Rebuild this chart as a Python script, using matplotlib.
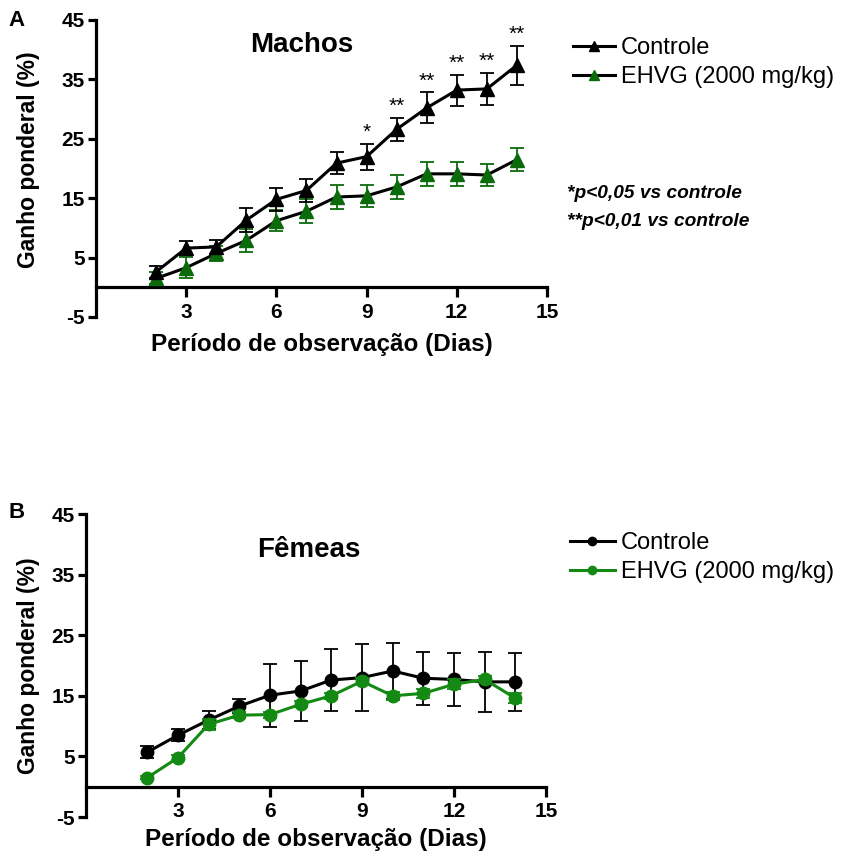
import numpy as np
import matplotlib.pyplot as plt
from matplotlib.lines import Line2D

plt.rcParams['font.family'] = ['Liberation Sans', 'DejaVu Sans']
plt.rcParams['axes.unicode_minus'] = False

# dados - painel A (machos)
dias = [2, 3, 4, 5, 6, 7, 8, 9, 10, 11, 12, 13, 14]
machos_ctrl = [2.6, 6.6, 6.8, 11.3, 14.8, 16.3, 20.9, 22.0, 26.6, 30.2, 33.2, 33.4, 37.4]
machos_ctrl_ep = [1.0, 1.2, 1.2, 2.0, 1.9, 1.9, 1.9, 2.2, 1.9, 2.6, 2.6, 2.7, 3.3]
machos_ehvg = [1.5, 3.3, 5.7, 7.9, 11.2, 12.8, 15.2, 15.4, 16.9, 19.1, 19.1, 18.9, 21.5]
machos_ehvg_ep = [1.0, 1.8, 1.3, 1.9, 1.8, 2.0, 2.0, 1.9, 2.0, 2.0, 2.0, 1.8, 2.0]
sig_marcas = ['', '', '', '', '', '', '', '*', '**', '**', '**', '**', '**']

# dados - painel B (femeas)
femeas_ctrl = [5.7, 8.5, 11.0, 13.3, 15.1, 15.8, 17.6, 18.0, 19.1, 17.9, 17.7, 17.3, 17.3]
femeas_ctrl_ep = [1.0, 1.0, 1.5, 1.2, 5.2, 5.0, 5.1, 5.5, 4.6, 4.4, 4.4, 4.9, 4.8]
femeas_ehvg = [1.5, 4.8, 10.3, 11.8, 11.9, 13.6, 15.0, 17.4, 15.0, 15.4, 16.9, 17.7, 14.6]
femeas_ehvg_ep = [0.3, 0.4, 0.9, 0.5, 0.5, 0.5, 0.5, 0.5, 0.7, 0.7, 0.8, 0.6, 0.85]

yticks = [-5, 5, 15, 25, 35, 45]
xticks = [3, 6, 9, 12, 15]

verde_a = '#0b6b0b'
verde_b = '#148a14'

fig = plt.figure(figsize=(8.41, 8.63), dpi=100)
W, H = 841, 863


def eixo(x0, x1, y_top, y_bot):
    return fig.add_axes([x0 / W, 1 - y_bot / H, (x1 - x0) / W, (y_bot - y_top) / H])


def estilo(ax):
    ax.set_xlim(0, 15)
    ax.set_ylim(-5, 45)
    ax.spines['top'].set_visible(False)
    ax.spines['right'].set_visible(False)
    ax.spines['bottom'].set_position(('data', 0))
    for s in ['left', 'bottom']:
        ax.spines[s].set_linewidth(2.3)
    ax.set_xticks(xticks)
    ax.set_yticks(yticks)
    ax.tick_params(axis='both', width=2.3, length=6, labelsize=15, pad=2)
    ax.tick_params(axis='x', length=7, pad=4)
    for lab in ax.get_xticklabels() + ax.get_yticklabels():
        lab.set_fontweight('bold')
    ax.set_xlabel('Período de observação (Dias)', fontsize=17.5, fontweight='bold')
    ax.set_ylabel('Ganho ponderal (%)', fontsize=16.5, fontweight='bold')


# Painel A
axA = eixo(96, 547, 20, 317)
estilo(axA)
axA.xaxis.set_label_coords(0.5, -0.055)
axA.yaxis.set_label_coords(-0.125, 0.53)

axA.errorbar(dias, machos_ehvg, yerr=machos_ehvg_ep, fmt='none', ecolor=verde_a,
             elinewidth=1.3, capsize=5, capthick=1.3, zorder=2)
axA.plot(dias, machos_ehvg, color='black', lw=2.2, zorder=3)
axA.plot(dias, machos_ehvg, ls='none', marker='^', ms=9.5, color=verde_a, zorder=4)
axA.errorbar(dias, machos_ctrl, yerr=machos_ctrl_ep, fmt='none', ecolor='black',
             elinewidth=1.3, capsize=5, capthick=1.3, zorder=5)
axA.plot(dias, machos_ctrl, color='black', lw=2.2, marker='^', ms=9.5, zorder=6)

for d, v, e, s in zip(dias, machos_ctrl, machos_ctrl_ep, sig_marcas):
    if s:
        axA.text(d, v + e + 0.3, s, ha='center', va='bottom', fontsize=15)

fig.text(302 / W, 1 - 45 / H, 'Machos', fontsize=20, fontweight='bold', ha='center', va='center')
fig.text(8 / W, 1 - 20 / H, 'A', fontsize=16, fontweight='bold', ha='left', va='center')

hA = [Line2D([], [], color='black', lw=2.2, marker='^', ms=7),
      Line2D([], [], color='black', lw=2.2, marker='^', ms=7, mfc=verde_a, mec=verde_a)]
fig.legend(hA, ['Controle', 'EHVG (2000 mg/kg)'], loc='upper left',
           bbox_to_anchor=(561 / W, 1 - 25 / H), frameon=False, fontsize=17,
           handlelength=1.8, handletextpad=0.25, labelspacing=0.3, borderpad=0)

fig.text(567 / W, 1 - 193 / H, '*p<0,05 vs controle', fontsize=13.8, fontweight='bold',
         style='italic', ha='left', va='center')
fig.text(567 / W, 1 - 221 / H, '**p<0,01 vs controle', fontsize=13.8, fontweight='bold',
         style='italic', ha='left', va='center')

# Painel B
axB = eixo(86, 546, 514, 817)
estilo(axB)
axB.xaxis.set_label_coords(0.5, -0.035)
axB.yaxis.set_label_coords(-0.1, 0.5)

axB.errorbar(dias, femeas_ctrl, yerr=femeas_ctrl_ep, fmt='none', ecolor='black',
             elinewidth=1.3, capsize=5, capthick=1.3, zorder=2)
axB.plot(dias, femeas_ctrl, color='black', lw=2.2, marker='o', ms=9, zorder=3)
axB.errorbar(dias, femeas_ehvg, yerr=femeas_ehvg_ep, fmt='none', ecolor=verde_b,
             elinewidth=1.3, capsize=5, capthick=1.3, zorder=4)
axB.plot(dias, femeas_ehvg, color=verde_b, lw=2.2, marker='o', ms=9, zorder=5)

fig.text(309 / W, 1 - 550 / H, 'Fêmeas', fontsize=20, fontweight='bold', ha='center', va='center')
fig.text(8 / W, 1 - 513 / H, 'B', fontsize=16, fontweight='bold', ha='left', va='center')

hB = [Line2D([], [], color='black', lw=2.2, marker='o', ms=6),
      Line2D([], [], color=verde_b, lw=2.2, marker='o', ms=6)]
fig.legend(hB, ['Controle', 'EHVG (2000 mg/kg)'], loc='upper left',
           bbox_to_anchor=(558 / W, 1 - 520 / H), frameon=False, fontsize=17,
           handlelength=1.9, handletextpad=0.25, labelspacing=0.3, borderpad=0)

fig.savefig('out.png', dpi=100)
